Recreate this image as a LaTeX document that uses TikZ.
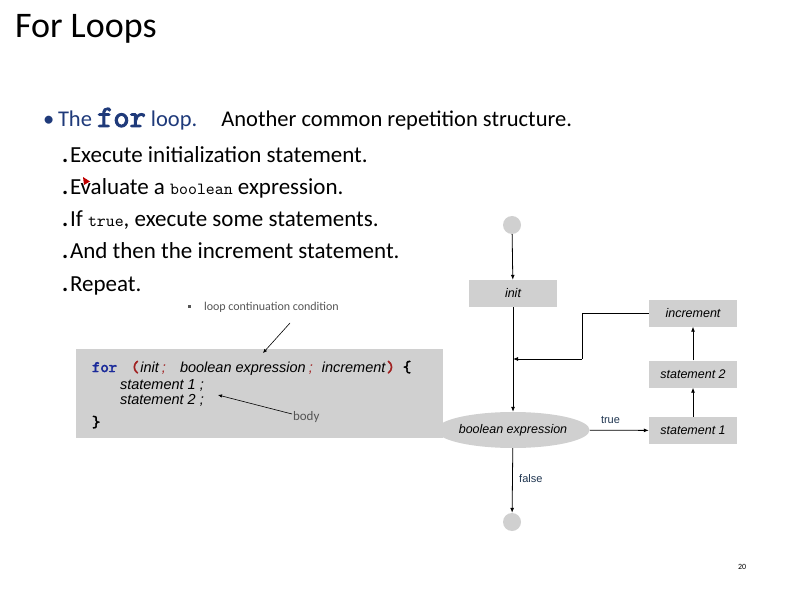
\documentclass[tikz,border=0pt]{standalone}
\usepackage{fontspec}
\setmainfont{Carlito}
\newfontfamily\codefont{Liberation Sans}
\newfontfamily\courbold{lmmono10-regular.otf}[FakeBold=3]
\newfontfamily\courreg{lmmono10-regular.otf}
\usetikzlibrary{arrows.meta,shapes.geometric}
\definecolor{boxgray}{HTML}{D0D0D0}
\definecolor{navy}{HTML}{1F3A7A}
\definecolor{codeblue}{HTML}{1A2A9A}
\definecolor{codered}{HTML}{A02020}
\definecolor{labelblue}{HTML}{1F3550}
\definecolor{notegray}{HTML}{555555}
\tikzset{
  txt/.style={anchor=base west, inner sep=0pt, outer sep=0pt},
  subtxt/.style={txt, font=\fontsize{23}{26}\selectfont},
  subdot/.style={txt, font=\fontsize{23}{26}\selectfont\bfseries},
  flowbox/.style={fill=boxgray, minimum width=88pt, minimum height=27pt, inner sep=0pt, font=\codefont\itshape\fontsize{12.5}{14}\selectfont},
  endpt/.style={circle, fill=boxgray, minimum size=18pt, inner sep=0pt},
  flowarrow/.style={draw=black, line width=0.8pt, -{Latex[length=5pt,width=4pt]}},
  flowline/.style={draw=black, line width=0.8pt},
  codetxt/.style={txt, font=\codefont\itshape\fontsize{14.5}{18}\selectfont},
  codekw/.style={txt, font=\courbold\fontsize{16}{16}\selectfont},
}
\begin{document}
\begin{tikzpicture}[x=1pt,y=-1pt]
\useasboundingbox (0,0) rectangle (792,612);
% title
\node[txt, font=\fontsize{36}{40}\selectfont] (title) at (15,38) {For Loops};
% main bullet
\node[txt, font=\fontsize{22.5}{26}\selectfont, text=navy] (mainbullet) at (43,127) {\textbullet};
\node[txt, font=\fontsize{22.5}{26}\selectfont] (main) at (58,127) {{\color{navy}The {\courbold\fontsize{31}{31}\selectfont for} loop.}\hspace{24pt}Another common repetition structure.};
% sub items
\node[subdot] (d1) at (62,163) {.};
\node[subtxt] (s1) at (70,163) {Execute initialization statement.};
\node[subdot] (d2) at (62,195) {.};
\node[subtxt] (s2) at (70,195) {Evaluate a {\courreg\fontsize{17}{17}\selectfont boolean} expression.};
\node[subdot] (d3) at (62,227) {.};
\node[subtxt] (s3) at (70,227) {If {\courreg\fontsize{17}{17}\selectfont true}, execute some statements.};
\node[subdot] (d4) at (62,259) {.};
\node[subtxt] (s4) at (70,259) {And then the increment statement.};
\node[subdot] (d5) at (62,291) {.};
\node[subtxt] (s5) at (70,291) {Repeat.};
% red marker
\fill[red!75!black] (83,177) -- (90,181.5) -- (84,185) -- cycle;
% loop continuation note
\fill[notegray] (187.5,304.5) rectangle (191,308);
\node[txt, font=\fontsize{12}{14}\selectfont, text=notegray] (note) at (204,310) {loop continuation condition};
% code box
\node[fill=boxgray, minimum width=367pt, minimum height=89pt, inner sep=0pt, anchor=north west] (codebox) at (76,349) {};
\node[codekw, text=codeblue] (kwfor) at (92,372) {for};
\node[codekw, text=codered] (lpar) at (131,372) {(};
\node[codetxt] (cinit) at ([xshift=1pt]lpar.base east) {init};
\node[codetxt, text=codered] (semi1) at ([xshift=3pt]cinit.base east) {;};
\node[codetxt] (cbool) at (180,372) {boolean expression};
\node[codetxt, text=codered] (semi2) at ([xshift=3pt]cbool.base east) {;};
\node[codetxt] (cincr) at ([xshift=9pt]semi2.base east) {increment};
\node[codekw, text=codered] (rpar) at ([xshift=1pt]cincr.base east) {)};
\node[codekw] (lbrace) at ([xshift=8pt]rpar.base east) {\{};
\node[codetxt] (c2) at (120,389) {statement 1 ;};
\node[codetxt] (c3) at (120,404) {statement 2 ;};
\node[codekw] (c4) at (92,427) {\}};
\node[txt, font=\fontsize{13}{15}\selectfont, text=notegray] (body) at (293,420) {body};
\coordinate (notetip) at (263,353);
\coordinate (notetail) at (290,323);
\coordinate (bodytip) at (218,395);
\coordinate (bodytail) at (292,414);
\draw[line width=0.6pt, -{Latex[length=4pt,width=3.5pt]}] (notetail) -- (notetip);
\draw[line width=0.6pt, -{Latex[length=4pt,width=3.5pt]}] (bodytail) -- (bodytip);
% flowchart
\node[endpt] (start) at (512,225) {};
\node[flowbox] (init) at (513,293.5) {init};
\node[flowbox] (incr) at (693,313) {increment};
\node[flowbox] (st2) at (693,374) {statement 2};
\node[flowbox] (st1) at (693,430.5) {statement 1};
\node[ellipse, fill=boxgray, minimum width=140pt, minimum height=36pt, inner sep=0pt, font=\codefont\itshape\fontsize{12.5}{14}\selectfont] (cond) at (513,430) {boolean expression};
\node[endpt] (stop) at (512,522) {};
\coordinate (join) at (513,359);
\coordinate (bend1) at (582,313);
\coordinate (bend2) at (582,359);
\draw[flowarrow] (start) -- (init);
\draw[flowline] (init) -- (join);
\draw[flowarrow] (join) -- (cond);
\draw[flowline] (incr.west) -- (bend1) -- (bend2);
\draw[flowarrow] (bend2) -- (join);
\draw[flowarrow] (cond) -- node[pos=0.35, above=3pt, font=\codefont\fontsize{11}{13}\selectfont, text=labelblue] (truelbl) {true} (st1);
\draw[flowarrow] (st1) -- (st2);
\draw[flowarrow] (st2) -- (incr);
\draw[flowarrow] (cond) -- node[pos=0.47, right=3pt, font=\codefont\fontsize{11}{13}\selectfont, text=labelblue] (falselbl) {false} (stop);
% page number
\node[txt, font=\fontsize{8}{10}\selectfont] (pnum) at (738,569) {20};
\end{tikzpicture}
\end{document}
